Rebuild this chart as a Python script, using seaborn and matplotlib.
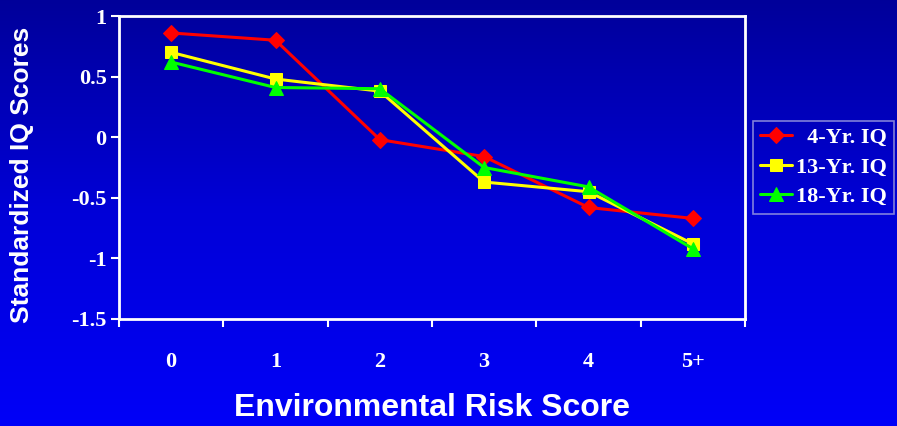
import numpy as np
import pandas as pd
import matplotlib
matplotlib.use("Agg")
import matplotlib.pyplot as plt
from matplotlib.colors import LinearSegmentedColormap
import seaborn as sns

categories = ["0", "1", "2", "3", "4", "5+"]
iq4 = [0.86, 0.80, -0.02, -0.16, -0.58, -0.67]
iq13 = [0.70, 0.48, 0.38, -0.37, -0.45, -0.88]
iq18 = [0.62, 0.41, 0.40, -0.25, -0.41, -0.92]
series_names = ["4-Yr. IQ", "13-Yr. IQ", "18-Yr. IQ"]
y_ticks = [1, 0.5, 0, -0.5, -1, -1.5]
y_tick_labels = ["1", "0.5", "0", "-0.5", "-1", "-1.5"]

df = pd.DataFrame({
    "risk": categories * 3,
    "pos": list(range(len(categories))) * 3,
    "iq": iq4 + iq13 + iq18,
    "series": [series_names[0]] * 6 + [series_names[1]] * 6 + [series_names[2]] * 6,
})

sns.set_style("white")
serif = "Liberation Serif"
sans = "Liberation Sans"

fig = plt.figure(figsize=(8.97, 4.26), dpi=100)

# gradient background
bg = fig.add_axes([0, 0, 1, 1], zorder=-10)
cmap = LinearSegmentedColormap.from_list("bg", ["#00009A", "#0000D8", "#0000F8"])
grad = np.linspace(0, 1, 256).reshape(-1, 1)
bg.imshow(grad, aspect="auto", cmap=cmap, extent=[0, 1, 0, 1], origin="upper")
bg.set_axis_off()

ax = fig.add_axes([119 / 897, 1 - 319 / 426, (745 - 119) / 897, (319 - 16) / 426])
ax.set_facecolor("none")

palette = {series_names[0]: "#FF0000", series_names[1]: "#FFFF00", series_names[2]: "#00FF00"}
markers = {series_names[0]: "D", series_names[1]: "s", series_names[2]: "^"}
sizes = {series_names[0]: 8, series_names[1]: 8.5, series_names[2]: 9.5}

for name in series_names:
    sub = df[df["series"] == name]
    sns.lineplot(data=sub, x="pos", y="iq", color=palette[name], marker=markers[name],
                 markersize=sizes[name], markeredgecolor=palette[name], linewidth=2.2,
                 ax=ax, label=name, legend=False)

ax.set_xlim(-0.5, len(categories) - 0.5)
ax.set_ylim(-1.5, 1)
ax.set_xticks(range(len(categories)))
ax.set_xticklabels(categories, fontfamily=serif, fontweight="bold", fontsize=16, color="white")
ax.set_xticks(np.arange(-0.5, len(categories), 1.0), minor=True)
ax.tick_params(axis="x", which="major", bottom=True, length=0, pad=24)
ax.tick_params(axis="x", which="minor", bottom=True, length=6, width=1.5, color="white", direction="out")
ax.set_yticks(y_ticks)
ax.set_yticklabels(y_tick_labels, fontfamily=serif, fontweight="bold", fontsize=16, color="white")
ax.tick_params(axis="y", which="major", left=True, length=6, width=1.5, color="white", direction="out", pad=3)
for s in ax.spines.values():
    s.set_visible(True)
    s.set_color("white")
    s.set_linewidth(2)
ax.set_xlabel("")
ax.set_ylabel("")
ax.grid(False)

fig.text(432 / 897, 1 - 408 / 426, "Environmental Risk Score", ha="center", va="center",
         fontfamily=sans, fontweight="bold", fontsize=23, color="white")
fig.text(22 / 897, 1 - 175 / 426, "Standardized IQ Scores", ha="center", va="center",
         rotation=90, fontfamily=sans, fontweight="bold", fontsize=19, color="white")

handles, labels = ax.get_legend_handles_labels()
labels = ["  " + labels[0], labels[1], labels[2]]
leg = fig.legend(handles, labels, loc="upper left", bbox_to_anchor=(753 / 897, 1 - 121 / 426),
                 frameon=True, fancybox=False, prop={"family": serif, "weight": "bold", "size": 16},
                 handlelength=1.45, handletextpad=0.2, borderpad=0.3, labelspacing=0.4,
                 borderaxespad=0, markerscale=1.0)
leg.get_frame().set_facecolor("none")
leg.get_frame().set_edgecolor("#A0A0E0")
leg.get_frame().set_linewidth(1.2)
for t in leg.get_texts():
    t.set_color("white")

fig.savefig("out.png", dpi=100)
